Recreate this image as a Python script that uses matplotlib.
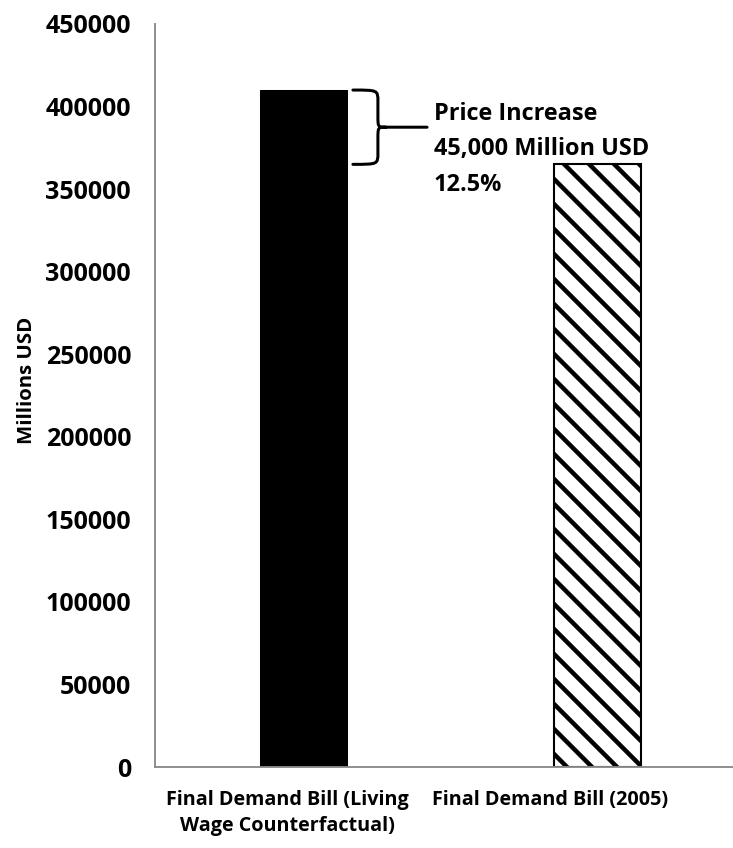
import matplotlib
matplotlib.use("Agg")
import matplotlib.pyplot as plt
from matplotlib.path import Path
from matplotlib.patches import PathPatch
from matplotlib.transforms import ScaledTranslation

categories = ["Final Demand Bill (Living\nWage Counterfactual)", "Final Demand Bill (2005)"]
values = [410000, 365000]
yticks = list(range(0, 450001, 50000))
increase_pct = 12.5

increase = values[0] - values[1]

plt.rcParams['font.family'] = ['Open Sans', 'DejaVu Sans']
plt.rcParams['hatch.linewidth'] = 4.3

DPI = 75
fig = plt.figure(figsize=(733 / DPI, 848 / DPI), dpi=DPI)
ax = fig.add_axes([0.2115, 0.0955, 0.7885, 0.8762])

x = [0, 1]
w = 0.295
ax.bar(x[0], values[0], width=w, color='black', edgecolor='black')
ax.bar(x[1], values[1], width=w, color='white', edgecolor='black', hatch='\\', linewidth=2)

ax.set_xlim(-0.504, 1.459)
ax.set_ylim(0, 450000)
ax.set_yticks(yticks)
ax.set_yticklabels([str(t) for t in yticks], fontsize=24, fontweight='bold')
ax.set_xticks(x)
ax.set_xticklabels(categories, fontsize=19, fontweight='bold', linespacing=1.4)
ax.tick_params(axis='both', length=0)
ax.tick_params(axis='y', pad=23)
ax.tick_params(axis='x', pad=22)

# nudge the category labels a little to the left
for lab, dx in zip(ax.get_xticklabels(), [-16, -48]):
    lab.set_transform(lab.get_transform() + ScaledTranslation(dx / DPI, 0, fig.dpi_scale_trans))

for s in ['top', 'right']:
    ax.spines[s].set_visible(False)
for s in ['left', 'bottom']:
    ax.spines[s].set_color('#8a8a8a')
    ax.spines[s].set_linewidth(1.8)

ax.set_ylabel("Millions USD", fontsize=19.5, fontweight='bold', labelpad=8)
ax.yaxis.label.set_y(0.521)

# curly brace spanning the price increase
y_top, y_bot = values[0], values[1]
y_mid = (y_top + y_bot) / 2
x0, x1, x2 = 0.168, 0.253, 0.42
r, dx = 7000, 0.027
verts = [
    (x0, y_top), (x1, y_top), (x1, y_top), (x1, y_top - r),
    (x1, y_mid + r),
    (x1, y_mid), (x1, y_mid), (x1 + dx, y_mid),
    (x2, y_mid),
    (x1 + dx, y_mid), (x1, y_mid), (x1, y_mid), (x1, y_mid - r),
    (x1, y_bot + r),
    (x1, y_bot), (x1, y_bot), (x0, y_bot),
]
codes = [
    Path.MOVETO, Path.CURVE4, Path.CURVE4, Path.CURVE4,
    Path.LINETO,
    Path.CURVE4, Path.CURVE4, Path.CURVE4,
    Path.LINETO,
    Path.MOVETO, Path.CURVE4, Path.CURVE4, Path.CURVE4,
    Path.LINETO,
    Path.CURVE4, Path.CURVE4, Path.CURVE4,
]
ax.add_patch(PathPatch(Path(verts, codes), facecolor='none', edgecolor='black',
                       linewidth=2.9, capstyle='round', clip_on=False))

ax.text(0.443, 374000,
        "Price Increase\n{:,.0f} Million USD\n{:.1f}%".format(increase, increase_pct),
        fontsize=22.5, fontweight='bold', ha='left', va='center', linespacing=1.62)

fig.savefig("out.png", dpi=DPI)
